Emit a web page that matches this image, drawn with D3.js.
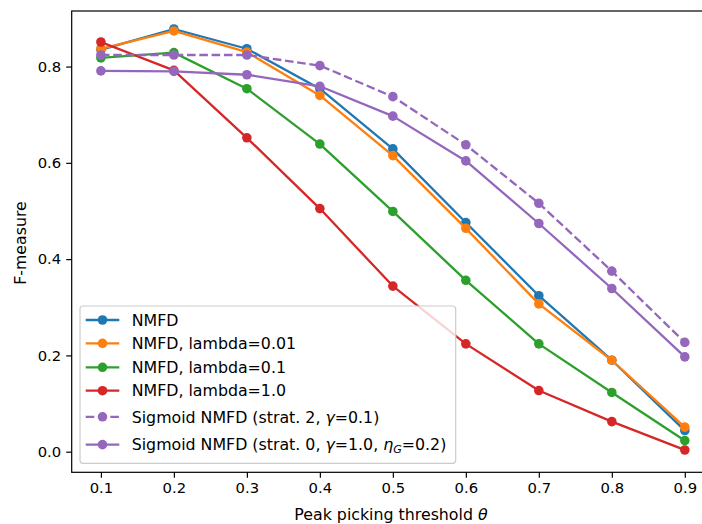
<!DOCTYPE html>
<html>
<head>
<meta charset="utf-8">
<script src="https://cdn.jsdelivr.net/npm/d3@7"></script>
<style>
  html, body { margin: 0; padding: 0; background: #fff; }
  svg { display: block; font-family: "DejaVu Sans", sans-serif; }
</style>
</head>
<body>
<svg id="chart" width="702" height="524"></svg>
<script>
const thresholds = [0.1, 0.2, 0.3, 0.4, 0.5, 0.6, 0.7, 0.8, 0.9];
const nmfd      = [0.835, 0.878, 0.837, 0.754, 0.629, 0.476, 0.324, 0.190, 0.044];
const lambda001 = [0.837, 0.874, 0.830, 0.740, 0.615, 0.464, 0.307, 0.190, 0.051];
const lambda01  = [0.818, 0.829, 0.754, 0.639, 0.499, 0.356, 0.224, 0.123, 0.023];
const lambda1   = [0.851, 0.792, 0.652, 0.505, 0.344, 0.224, 0.127, 0.0625, 0.0035];
const sigStrat2 = [0.824, 0.824, 0.824, 0.802, 0.7375, 0.6375, 0.516, 0.375, 0.227];
const sigStrat0 = [0.791, 0.790, 0.783, 0.759, 0.697, 0.604, 0.474, 0.339, 0.197];
const xTicks = [0.1, 0.2, 0.3, 0.4, 0.5, 0.6, 0.7, 0.8, 0.9];
const yTicks = [0.0, 0.2, 0.4, 0.6, 0.8];

const series = [
  {values: nmfd, color: "#1f77b4", dashed: false, label: [{t: "NMFD"}]},
  {values: lambda001, color: "#ff7f0e", dashed: false, label: [{t: "NMFD, lambda=0.01"}]},
  {values: lambda01, color: "#2ca02c", dashed: false, label: [{t: "NMFD, lambda=0.1"}]},
  {values: lambda1, color: "#d62728", dashed: false, label: [{t: "NMFD, lambda=1.0"}]},
  {values: sigStrat2, color: "#9467bd", dashed: true,
   label: [{t: "Sigmoid NMFD (strat. 2, "}, {t: "γ", i: true}, {t: "=0.1)"}]},
  {values: sigStrat0, color: "#9467bd", dashed: false,
   label: [{t: "Sigmoid NMFD (strat. 0, "}, {t: "γ", i: true}, {t: "=1.0, "}, {t: "η", i: true}, {t: "G", i: true, sub: true}, {t: "=0.2)"}]}
];

const svg = d3.select("#chart");
const L = 71.7, T = 11, R = 714, B = 472.3;
const x = d3.scaleLinear().domain([0.06, 0.94]).range([L, R]);
const y = d3.scaleLinear().domain([-0.0428, 0.9154]).range([B, T]);
const fsTick = 14.8;
const fsText = 15.8;

const plot = svg.append("g");
const line = d3.line().x((d, i) => x(thresholds[i])).y(d => y(d));

series.forEach(s => {
  const g = plot.append("g");
  g.append("path").datum(s.values)
    .attr("d", line)
    .attr("fill", "none")
    .attr("stroke", s.color)
    .attr("stroke-width", 2.3)
    .attr("stroke-linejoin", "round")
    .attr("stroke-linecap", s.dashed ? "butt" : "square")
    .attr("stroke-dasharray", s.dashed ? "8.6,3.7" : null);
  g.selectAll("circle").data(s.values).enter().append("circle")
    .attr("cx", (d, i) => x(thresholds[i]))
    .attr("cy", d => y(d))
    .attr("r", 4.8)
    .attr("fill", s.color);
});

// axes
const xAxis = d3.axisBottom(x).tickValues(xTicks).tickFormat(d3.format(".1f")).tickSize(5.5).tickPadding(5);
const yAxis = d3.axisLeft(y).tickValues(yTicks).tickFormat(d3.format(".1f")).tickSize(5.5).tickPadding(5);
const gx = svg.append("g").attr("transform", `translate(0,${B})`).call(xAxis);
const gy = svg.append("g").attr("transform", `translate(${L},0)`).call(yAxis);
[gx, gy].forEach(g => {
  g.select(".domain").remove();
  g.selectAll("line").attr("stroke", "#000").attr("stroke-width", 1.2);
  g.selectAll("text").attr("font-size", fsTick).attr("fill", "#000").attr("font-family", "DejaVu Sans");
});

// spines
svg.append("rect").attr("x", L).attr("y", T).attr("width", R - L).attr("height", B - T)
  .attr("fill", "none").attr("stroke", "#000").attr("stroke-width", 1.2);

// axis labels
svg.append("text").attr("x", 391).attr("y", 519.5)
  .attr("text-anchor", "middle").attr("font-size", fsText)
  .call(t => { t.append("tspan").text("Peak picking threshold "); t.append("tspan").attr("font-style", "italic").text("θ"); });
svg.append("text").attr("transform", "translate(26,243) rotate(-90)")
  .attr("text-anchor", "middle").attr("font-size", fsText).text("F-measure");

// legend
const lg = svg.append("g");
lg.append("rect").attr("x", 80).attr("y", 306).attr("width", 375.7).attr("height", 157.3)
  .attr("rx", 3).attr("fill", "#fff").attr("fill-opacity", 0.8)
  .attr("stroke", "#cccccc").attr("stroke-width", 1.2);
const rowY = [320, 343.3, 367.3, 390.7, 416.8, 444.6];
series.forEach((s, k) => {
  const yy = rowY[k];
  lg.append("line").attr("x1", 85.7).attr("x2", 119.3).attr("y1", yy).attr("y2", yy)
    .attr("stroke", s.color).attr("stroke-width", 2.3)
    .attr("stroke-dasharray", s.dashed ? "8.6,3.7" : null);
  lg.append("circle").attr("cx", 102.5).attr("cy", yy).attr("r", 4.8).attr("fill", s.color);
  const t = lg.append("text").attr("x", 131.7).attr("y", yy + 5.7).attr("font-size", fsText);
  s.label.forEach(p => {
    const sp = t.append("tspan").text(p.t);
    if (p.i) sp.attr("font-style", "italic");
    if (p.sub) sp.attr("font-size", fsText * 0.7).attr("baseline-shift", "-25%");
  });
});
</script>
</body>
</html>
